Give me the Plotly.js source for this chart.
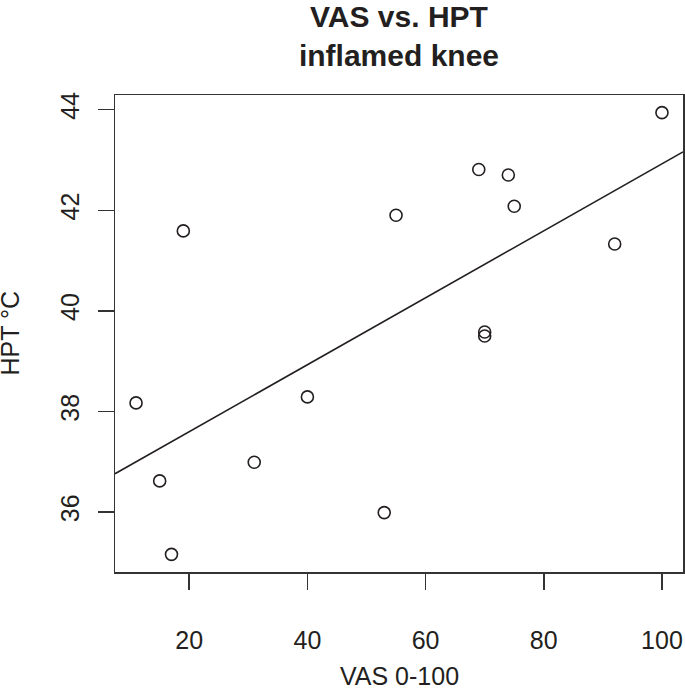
<!DOCTYPE html>
<html>
<head>
<meta charset="utf-8">
<script src="https://cdn.plot.ly/plotly-3.0.1.min.js"></script>
<style>
html,body{margin:0;padding:0;background:#fff;}
#chart{width:685px;height:688px;}
</style>
</head>
<body>
<div id="chart"></div>
<script>
// Data
const vas = [11, 15, 17, 19, 31, 40, 53, 55, 69, 70, 70, 74, 75, 92, 100];
const hpt = [38.17, 36.62, 35.16, 41.59, 36.99, 38.29, 35.99, 41.90, 42.81, 39.58, 39.50, 42.70, 42.08, 41.33, 43.94];
const xTicks = [20, 40, 60, 80, 100];
const yTicks = [36, 38, 40, 42, 44];
const chartTitle = "VAS vs. HPT<br>inflamed knee";
const xLabel = "VAS 0-100";
const yLabel = "HPT °C";

// R-style axis ranges (data range extended by 4%)
function rRange(a) {
  const mn = Math.min(...a), mx = Math.max(...a), d = (mx - mn) * 0.04;
  return [mn - d, mx + d];
}
const xr = rRange(vas), yr = rRange(hpt);

// Least-squares regression line (abline(lm(hpt ~ vas)))
const n = vas.length;
const mx = vas.reduce((s, v) => s + v, 0) / n;
const my = hpt.reduce((s, v) => s + v, 0) / n;
let sxy = 0, sxx = 0;
for (let i = 0; i < n; i++) { sxy += (vas[i] - mx) * (hpt[i] - my); sxx += (vas[i] - mx) ** 2; }
const slope = sxy / sxx, icpt = my - slope * mx;
const lineX = [xr[0], xr[1]];
const lineY = lineX.map(x => icpt + slope * x);

const ink = '#231f20';
const font = 'Liberation Sans, Arial, Helvetica, sans-serif';

const traces = [
  { x: lineX, y: lineY, mode: 'lines', type: 'scatter',
    line: { color: ink, width: 1.6 }, hoverinfo: 'skip', showlegend: false },
  { x: vas, y: hpt, mode: 'markers', type: 'scatter',
    marker: { symbol: 'circle-open', size: 12, color: ink, line: { color: ink, width: 1.6 } },
    showlegend: false }
];

const axisCommon = {
  showgrid: false, zeroline: false,
  showline: true, mirror: true, linecolor: '#333', linewidth: 1.5,
  ticks: 'outside', ticklen: 16, tickwidth: 1.5, tickcolor: '#333',
  tickfont: { family: font, size: 25, color: ink },
  fixedrange: true
};

const layout = {
  width: 685, height: 688,
  margin: { l: 115, r: 2, t: 95, b: 116 },
  paper_bgcolor: '#fff', plot_bgcolor: '#fff',
  font: { family: font, color: ink },
  title: {
    text: '<b>' + chartTitle.split('<br>').join('</b><br><b>') + '</b>',
    font: { family: font, size: 30, color: ink },
    xref: 'paper', x: 0.5, xanchor: 'center',
    yref: 'container', y: 0.961, yanchor: 'top'
  },
  xaxis: Object.assign({}, axisCommon, {
    range: xr, tickmode: 'array', tickvals: xTicks,
    ticklabelstandoff: 29
  }),
  yaxis: Object.assign({}, axisCommon, {
    range: yr, tickmode: 'array', tickvals: yTicks, tickangle: -90,
    ticklabelstandoff: 9
  }),
  annotations: [
    { text: xLabel, xref: 'paper', yref: 'paper', x: 0.5, y: 0,
      xanchor: 'center', yanchor: 'top', yshift: -88, showarrow: false,
      font: { family: font, size: 25, color: ink } },
    { text: yLabel, xref: 'paper', yref: 'paper', x: 0, y: 0.5, textangle: -90,
      xanchor: 'left', yanchor: 'middle', xshift: -122, showarrow: false,
      font: { family: font, size: 25, color: ink } }
  ]
};

Plotly.newPlot('chart', traces, layout, { displayModeBar: false, staticPlot: true });
</script>
</body>
</html>
